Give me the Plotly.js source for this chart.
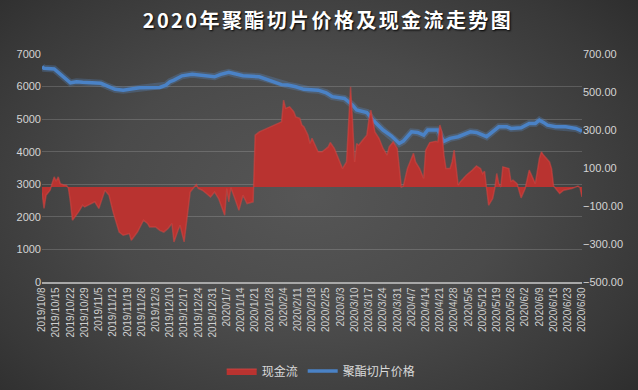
<!DOCTYPE html>
<html>
<head>
<meta charset="utf-8">
<script src="https://cdn.plot.ly/plotly-3.0.1.min.js"></script>
<style>
html,body{margin:0;padding:0;}
body{width:638px;height:390px;overflow:hidden;
background:radial-gradient(ellipse 70% 80% at 48% 50%, #565656 0%, #4a4a4a 45%, #383838 80%, #2c2c2c 100%);}
#chart{width:638px;height:390px;}
.gtitle{letter-spacing:2.4px;}
</style>
</head>
<body>
<div id="chart"></div>
<script>
// 聚酯切片价格 (left axis)
const priceDates = ['2019-10-08','2019-10-09','2019-10-14','2019-10-17','2019-10-19','2019-10-22','2019-10-25','2019-10-28','2019-11-06','2019-11-09','2019-11-13','2019-11-17','2019-11-21','2019-11-25','2019-12-05','2019-12-08','2019-12-10','2019-12-12','2019-12-16','2019-12-21','2020-01-01','2020-01-04','2020-01-08','2020-01-11','2020-01-15','2020-01-23','2020-02-03','2020-02-06','2020-02-10','2020-02-14','2020-02-17','2020-02-21','2020-02-25','2020-02-28','2020-03-05','2020-03-09','2020-03-11','2020-03-16','2020-03-19','2020-03-24','2020-03-28','2020-04-01','2020-04-03','2020-04-07','2020-04-10','2020-04-13','2020-04-15','2020-04-20','2020-04-22','2020-04-23','2020-04-26','2020-04-30','2020-05-06','2020-05-09','2020-05-14','2020-05-17','2020-05-20','2020-05-24','2020-05-26','2020-05-31','2020-06-04','2020-06-07','2020-06-09','2020-06-11','2020-06-13','2020-06-17','2020-06-22','2020-06-27','2020-06-30'];
const prices = [6610,6560,6540,6375,6250,6115,6150,6130,6100,6015,5915,5890,5915,5965,5975,6045,6150,6200,6330,6375,6300,6375,6435,6385,6330,6300,6060,6045,5995,5915,5900,5890,5810,5690,5635,5430,5280,5205,4970,4665,4490,4255,4325,4610,4590,4510,4665,4665,4410,4320,4410,4460,4610,4590,4460,4610,4765,4765,4715,4735,4870,4870,4970,4900,4815,4765,4765,4715,4630];

// 现金流 (right axis)
const cashDates = ['2019-10-08','2019-10-09','2019-10-10','2019-10-12','2019-10-13','2019-10-14','2019-10-15','2019-10-16','2019-10-17','2019-10-19','2019-10-20','2019-10-21','2019-10-22','2019-10-23','2019-10-26','2019-10-28','2019-10-29','2019-11-01','2019-11-03','2019-11-05','2019-11-07','2019-11-08','2019-11-10','2019-11-12','2019-11-15','2019-11-17','2019-11-20','2019-11-21','2019-11-24','2019-11-27','2019-11-29','2019-11-30','2019-12-03','2019-12-05','2019-12-07','2019-12-09','2019-12-11','2019-12-12','2019-12-14','2019-12-15','2019-12-17','2019-12-18','2019-12-20','2019-12-22','2019-12-23','2019-12-24','2019-12-26','2019-12-28','2019-12-30','2020-01-01','2020-01-03','2020-01-06','2020-01-07','2020-01-08','2020-01-09','2020-01-11','2020-01-13','2020-01-15','2020-01-17','2020-01-20','2020-01-21','2020-01-23','2020-02-03','2020-02-04','2020-02-05','2020-02-07','2020-02-09','2020-02-10','2020-02-12','2020-02-13','2020-02-14','2020-02-16','2020-02-17','2020-02-18','2020-02-19','2020-02-21','2020-02-23','2020-02-26','2020-02-27','2020-02-29','2020-03-03','2020-03-04','2020-03-06','2020-03-07','2020-03-08','2020-03-09','2020-03-10','2020-03-11','2020-03-12','2020-03-14','2020-03-16','2020-03-17','2020-03-18','2020-03-20','2020-03-22','2020-03-24','2020-03-26','2020-03-27','2020-03-29','2020-03-31','2020-04-01','2020-04-02','2020-04-03','2020-04-05','2020-04-08','2020-04-09','2020-04-11','2020-04-13','2020-04-14','2020-04-16','2020-04-19','2020-04-20','2020-04-21','2020-04-22','2020-04-23','2020-04-24','2020-04-26','2020-04-27','2020-04-28','2020-04-29','2020-04-30','2020-05-01','2020-05-04','2020-05-07','2020-05-09','2020-05-11','2020-05-12','2020-05-13','2020-05-14','2020-05-15','2020-05-17','2020-05-18','2020-05-19','2020-05-20','2020-05-21','2020-05-22','2020-05-25','2020-05-26','2020-05-27','2020-05-29','2020-05-31','2020-06-02','2020-06-04','2020-06-05','2020-06-07','2020-06-09','2020-06-10','2020-06-11','2020-06-14','2020-06-15','2020-06-16','2020-06-19','2020-06-21','2020-06-25','2020-06-28','2020-06-29','2020-06-30'];
const cashFlow = [-30,-113,-43,-17,20,53,30,53,18,9,9,-5,-78,-175,-131,-96,-105,-87,-78,-113,-43,-17,-43,-131,-237,-254,-245,-280,-237,-175,-192,-210,-210,-228,-237,-219,-192,-289,-228,-201,-289,-190,-26,0,13,-8,-17,-34,-52,-26,-61,-149,-8,-78,-3,-61,-122,-43,-87,-78,273,290,343,457,414,422,396,369,361,326,317,273,229,256,229,185,185,211,234,203,124,97,132,343,527,343,132,229,220,247,273,352,405,290,256,203,168,211,238,203,97,0,5,97,177,132,97,45,194,234,241,238,326,290,168,97,97,132,194,97,10,27,62,89,111,97,71,83,0,-96,-61,-8,71,18,0,106,97,30,36,18,-57,-8,89,62,18,150,185,168,132,97,5,-34,-17,-8,5,-3,-52];

// x-axis weekly ticks
const weekTicks = ['2019-10-08','2019-10-15','2019-10-22','2019-10-29','2019-11-05','2019-11-12','2019-11-19','2019-11-26','2019-12-03','2019-12-10','2019-12-17','2019-12-24','2019-12-31','2020-01-07','2020-01-14','2020-01-21','2020-01-28','2020-02-04','2020-02-11','2020-02-18','2020-02-25','2020-03-03','2020-03-10','2020-03-17','2020-03-24','2020-03-31','2020-04-07','2020-04-14','2020-04-21','2020-04-28','2020-05-05','2020-05-12','2020-05-19','2020-05-26','2020-06-02','2020-06-09','2020-06-16','2020-06-23','2020-06-30'];
const weekLabels = ['2019/10/8','2019/10/15','2019/10/22','2019/10/29','2019/11/5','2019/11/12','2019/11/19','2019/11/26','2019/12/3','2019/12/10','2019/12/17','2019/12/24','2019/12/31','2020/1/7','2020/1/14','2020/1/21','2020/1/28','2020/2/4','2020/2/11','2020/2/18','2020/2/25','2020/3/3','2020/3/10','2020/3/17','2020/3/24','2020/3/31','2020/4/7','2020/4/14','2020/4/21','2020/4/28','2020/5/5','2020/5/12','2020/5/19','2020/5/26','2020/6/2','2020/6/9','2020/6/16','2020/6/23','2020/6/30'];

const tickFont = {family:'Liberation Sans, Arial, sans-serif', size:11, color:'#d4d4d4'};

const traces = [
  {
    name:'现金流', x:cashDates, y:cashFlow, yaxis:'y2', type:'scatter', mode:'lines',
    fill:'tozeroy', fillcolor:'#b93330',
    line:{color:'rgba(215,70,65,0.55)', width:1.5, shape:'linear'},
    hoverinfo:'skip'
  },
  {
    name:'glow', x:priceDates, y:prices, yaxis:'y', type:'scatter', mode:'lines',
    line:{color:'rgba(90,150,225,0.25)', width:7}, showlegend:false, hoverinfo:'skip'
  },
  {
    name:'聚酯切片价格', x:priceDates, y:prices, yaxis:'y', type:'scatter', mode:'lines',
    line:{color:'#4a82c6', width:3.5}
  }
];

const layout = {
  width:638, height:390,
  paper_bgcolor:'rgba(0,0,0,0)', plot_bgcolor:'rgba(0,0,0,0)',
  margin:{l:42, r:56, t:54, b:108, pad:0, autoexpand:false},
  title:{
    text:'<b>2020年聚酯切片价格及现金流走势图</b>',
    font:{family:'Noto Sans CJK SC, sans-serif', size:20, color:'#ffffff', shadow:'1px 1px 2px #000'},
    x:0.514, xanchor:'center', y:0.946, yanchor:'middle', xref:'container', yref:'container'
  },
  showlegend:true,
  legend:{orientation:'h', x:0.517, xanchor:'center', y:0.049, yanchor:'middle', yref:'container',
    font:{family:'Noto Sans CJK SC, sans-serif', size:12, color:'#d9d9d9'},
    bgcolor:'rgba(0,0,0,0)'},
  xaxis:{
    type:'date', range:['2019-10-08','2020-06-30'], automargin:false,
    tickmode:'array', tickvals:weekTicks, ticktext:weekLabels, tickangle:-90,
    tickfont:{family:'Liberation Sans, Arial, sans-serif', size:10, color:'#d0d0d0'},
    showgrid:false, zeroline:false, showline:true, linecolor:'#a8a8a8', linewidth:1.5,
    ticks:'', fixedrange:true
  },
  yaxis:{
    range:[0,7000], tickmode:'linear', tick0:0, dtick:1000, tickformat:'d', automargin:false,
    tickfont:tickFont, showgrid:true, gridcolor:'rgba(255,255,255,0.16)', gridwidth:1,
    zeroline:false, showline:false, ticks:'', fixedrange:true
  },
  yaxis2:{
    overlaying:'y', side:'right', range:[-500,700], tickmode:'linear', tick0:-500, dtick:200,
    tickformat:'.2f', tickfont:tickFont, showgrid:false, zeroline:false, showline:false,
    ticks:'', fixedrange:true, automargin:false
  }
};

Plotly.newPlot('chart', traces, layout, {displayModeBar:false, staticPlot:true});
</script>
</body>
</html>
